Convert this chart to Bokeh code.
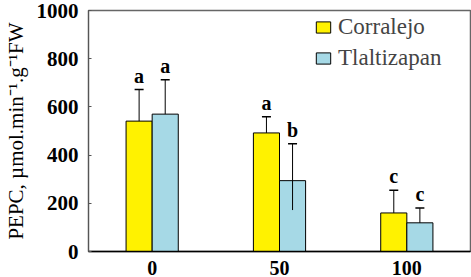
from bokeh.plotting import figure
from bokeh.models import (FactorRange, ColumnDataSource, Legend, LegendItem,
                          Whisker, TeeHead)
from bokeh.transform import dodge
from bokeh.core.properties import value
from bokeh.embed import file_html
from bokeh.resources import INLINE

# ---- data ----
categories = ["0", "50", "100"]
corralejo = [541, 492, 160]
corralejo_err_up = [131, 67, 94]
corralejo_err_down = [0, 0, 0]
corralejo_letters = ["a", "a", "c"]
tlaltizapan = [570, 294, 119]
tlaltizapan_err_up = [143, 153, 61]
tlaltizapan_err_down = [0, 122, 0]
tlaltizapan_letters = ["a", "b", "c"]
y_ticks = [0, 200, 400, 600, 800, 1000]

YELLOW = "#FFF200"
BLUE = "#A6D9E6"
SERIF = "Liberation Serif"

def make_src(vals, up, down, letters):
    return ColumnDataSource(dict(
        cat=categories, val=vals,
        hi=[v + u for v, u in zip(vals, up)],
        lo=[v - d for v, d in zip(vals, down)],
        letter=letters))

src_c = make_src(corralejo, corralejo_err_up, corralejo_err_down, corralejo_letters)
src_t = make_src(tlaltizapan, tlaltizapan_err_up, tlaltizapan_err_down, tlaltizapan_letters)

p = figure(width=471, height=277, x_range=FactorRange(*categories, range_padding=0),
           y_range=(0, 1000), output_backend="svg", toolbar_location=None,
           min_border_left=86, min_border_right=1, min_border_top=10, min_border_bottom=0)

bw = 0.205
off = bw / 2
r_c = p.vbar(x=dodge("cat", -off, range=p.x_range), top="val", width=bw, source=src_c,
             fill_color=YELLOW, line_color="black", line_width=1)
r_t = p.vbar(x=dodge("cat", off, range=p.x_range), top="val", width=bw, source=src_t,
             fill_color=BLUE, line_color="black", line_width=1)

for src, o in ((src_c, -off), (src_t, off)):
    w = Whisker(base=dodge("cat", o, range=p.x_range), upper="hi", lower="lo", source=src,
                dimension="height", line_color="black", line_width=1,
                upper_head=TeeHead(size=9, line_color="black", line_width=1.5),
                lower_head=None, level="overlay")
    p.add_layout(w)
    p.text(x=dodge("cat", o, range=p.x_range), y="hi", text="letter", source=src,
           text_font=value(SERIF), text_font_style="bold", text_font_size="20px",
           text_align="center", text_baseline="bottom", y_offset=-3, text_color="black")

legend = Legend(items=[LegendItem(label="Corralejo", renderers=[r_c]),
                       LegendItem(label="Tlaltizapan", renderers=[r_t])],
                location=(226, 180), padding=0, margin=0, spacing=5,
                glyph_width=18, glyph_height=14, label_standoff=6,
                label_text_font=SERIF, label_text_font_size="23px",
                border_line_color=None, background_fill_alpha=0)
p.add_layout(legend)

p.xgrid.visible = False
p.ygrid.visible = False
p.outline_line_color = "#666666"
p.outline_line_width = 1.5

p.yaxis.ticker = y_ticks
p.yaxis.major_tick_in = 3
p.yaxis.major_tick_out = 0
p.yaxis.minor_tick_line_color = None
p.yaxis.axis_line_color = "#555555"
p.yaxis.major_tick_line_color = "#555555"
p.yaxis.major_label_text_font = SERIF
p.yaxis.major_label_text_font_style = "bold"
p.yaxis.major_label_text_font_size = "21px"
p.yaxis.major_label_text_color = "black"
p.yaxis.major_label_standoff = 10
p.yaxis.axis_label = "PEPC, µmol.min⁻¹.g⁻¹FW"
p.yaxis.axis_label_text_font = SERIF
p.yaxis.axis_label_text_font_style = "normal"
p.yaxis.axis_label_text_font_size = "21px"
p.yaxis.axis_label_text_color = "black"
p.yaxis.axis_label_standoff = 6

p.xaxis.major_tick_line_color = None
p.xaxis.minor_tick_line_color = None
p.xaxis.axis_line_color = "black"
p.xaxis.axis_line_width = 1.5
p.xaxis.major_label_text_font = SERIF
p.xaxis.major_label_text_font_style = "bold"
p.xaxis.major_label_text_font_size = "20px"
p.xaxis.major_label_text_color = "black"
p.xaxis.major_label_standoff = 3

open("out.html", "w").write(file_html(p, INLINE))
